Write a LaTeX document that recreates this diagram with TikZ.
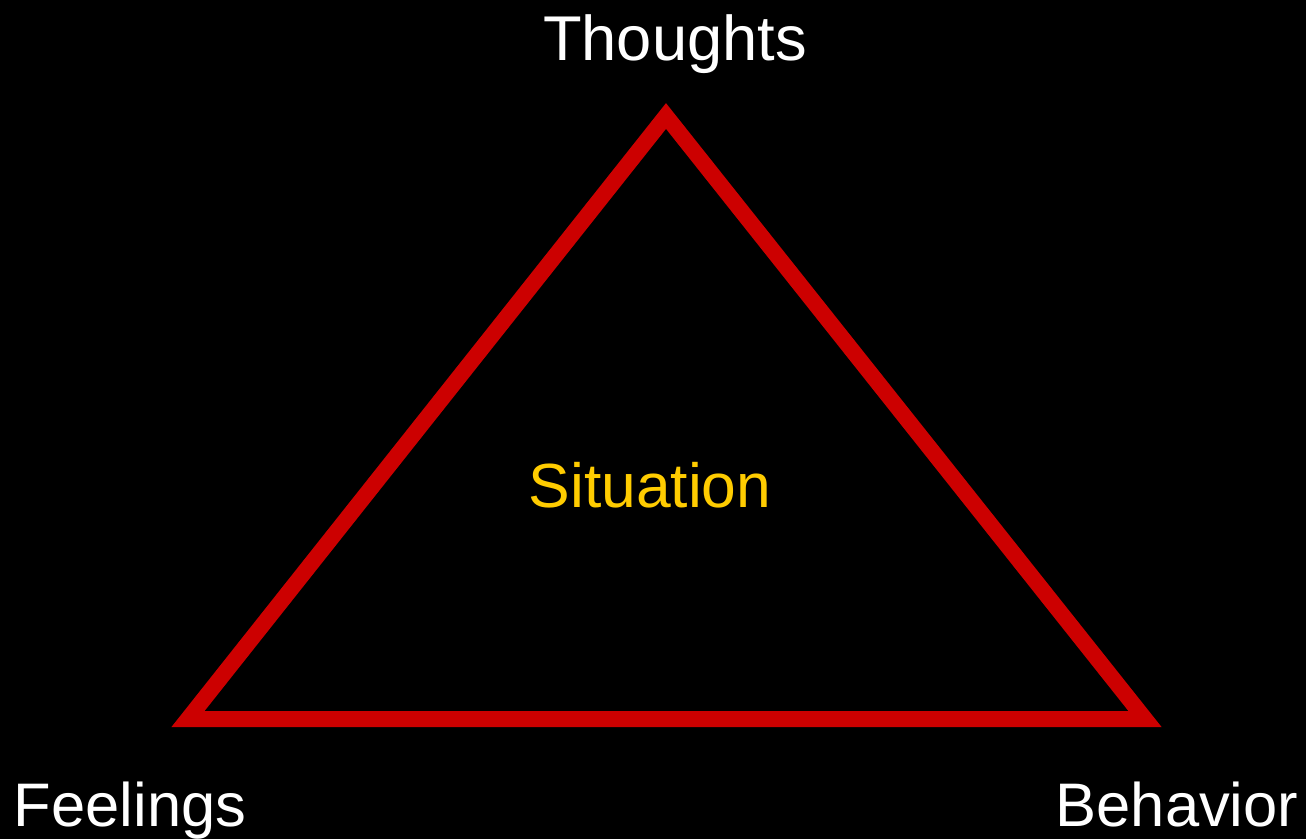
\documentclass[tikz,border=0pt]{standalone}
\usepackage{fontspec}
\setmainfont{Liberation Sans}
\definecolor{trired}{HTML}{CC0000}
\definecolor{sityellow}{HTML}{FFCC00}
\begin{document}
\begin{tikzpicture}[x=0.02cm,y=-0.02cm,
  lbl/.style={text=white,font=\fontsize{36}{40}\selectfont,inner sep=0pt,anchor=base},
  lbls/.style={lbl,font=\fontsize{35}{40}\selectfont},
  sit/.style={text=sityellow,font=\fontsize{35.5}{40}\selectfont,inner sep=0pt,anchor=base},
  edge/.style={draw=trired,line width=16*0.02cm,line join=miter}]
\fill[black] (0,0) rectangle (1306,839);
\useasboundingbox (0,0) rectangle (1306,839);
\coordinate (A) at (666,116);
\coordinate (L) at (188,719);
\coordinate (R) at (1145,719);
\draw[edge] (A) -- (L) -- (R) -- cycle;
\node[lbl] (th) at (675,60) {Thoughts};
\node[lbls] (fe) at (130,826) {Feelings};
\node[lbls] (be) at (1177,826) {Behavior};
\node[sit] (si) at (650,507) {Situation};
\end{tikzpicture}
\end{document}
